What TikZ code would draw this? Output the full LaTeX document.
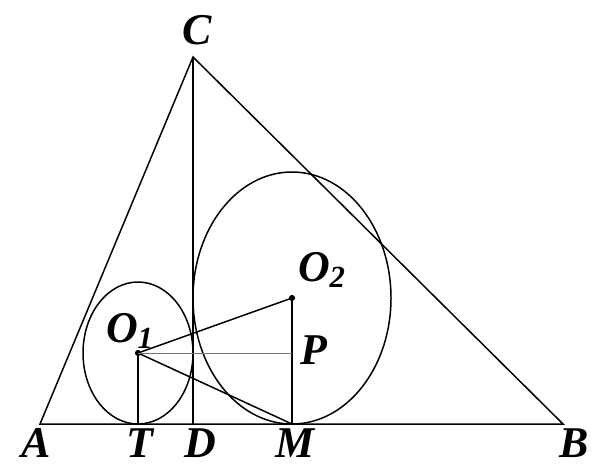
\documentclass[tikz,border=0pt]{standalone}
\usepackage{fontspec}
\setmainfont{Liberation Serif}
\begin{document}
\begin{tikzpicture}[x=0.02cm,y=-0.02cm,
    edge/.style={line width=0.85pt,draw=black},
    thin/.style={line width=0.5pt,draw=black!55},
    pt/.style={font=\fontsize{25}{25}\selectfont\bfseries\itshape,inner sep=0pt},
    dot/.style={circle,fill=black,inner sep=0pt,minimum size=3.5pt}
  ]
    \useasboundingbox (0,0) rectangle (594,466);

    % points
    \coordinate (A) at (40,424);
    \coordinate (B) at (563,424);
    \coordinate (C) at (193,57);
    \coordinate (D) at (193,424);
    \coordinate (T) at (138,424);
    \coordinate (M) at (292,424);
    \coordinate (P) at (292,353);
    \node[dot] (O1) at (138,353) {};
    \node[dot] (O2) at (292,298) {};

    % triangle and altitude
    \draw[edge] (A) -- (B) -- (C) -- cycle;
    \draw[edge] (C) -- (D);

    % circles
    \draw[edge] (O1.center) ellipse [x radius=55,y radius=71];
    \draw[edge] (O2.center) ellipse [x radius=99,y radius=126];

    \draw[edge] (O1.center) -- (O2.center);
    \draw[edge] (O1.center) -- (M);
    \draw[edge] (O1.center) -- (T);
    \draw[edge] (O2.center) -- (P) -- (M);
    \draw[thin] (O1.center) -- (P);

    % labels
    \node[pt] (lA) at (36,443) {A};
    \node[pt] (lT) at (140,443) {T};
    \node[pt] (lD) at (200,443) {D};
    \node[pt] (lM) at (295,443) {M};
    \node[pt] (lB) at (574,443) {B};
    \node[pt] (lC) at (197,30) {C};
    \node[pt] (lO1) at (130,331) {O\textsubscript{1}};
    \node[pt] (lO2) at (322,270) {O\textsubscript{2}};
    \node[pt] (lP) at (314,350) {P};
\end{tikzpicture}
\end{document}
